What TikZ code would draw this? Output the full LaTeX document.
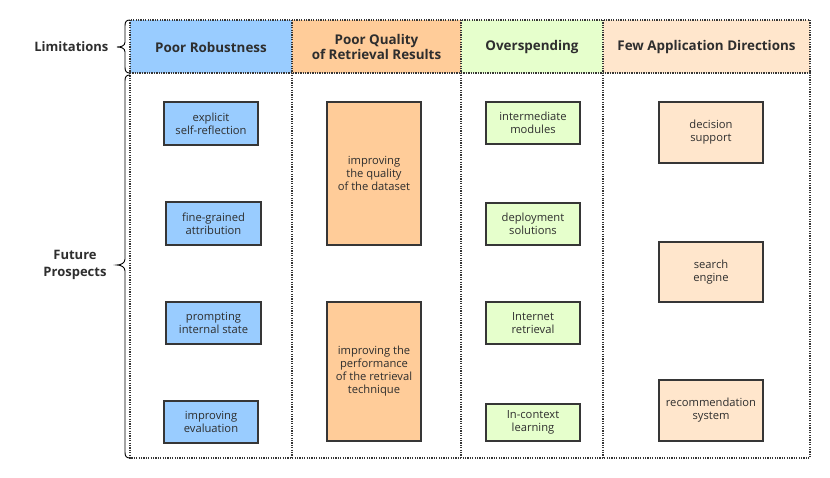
\documentclass[tikz,border=0pt]{standalone}
\usepackage{fontspec}
\setmainfont{Open Sans}
\definecolor{txt}{HTML}{2E2E2E}
\definecolor{cblue}{HTML}{99CCFF}
\definecolor{corange}{HTML}{FFCC99}
\definecolor{cgreen}{HTML}{E6FFCC}
\definecolor{cpeach}{HTML}{FFE6CC}
\definecolor{bord}{HTML}{363636}
\tikzset{
  dotline/.style={draw=bord, line width=1.2pt, dash pattern=on 1.2pt off 1.2pt},
  head/.style={font=\fontsize{13.4}{15}\selectfont\bfseries, text=txt, align=center},
  side/.style={font=\fontsize{13}{17}\selectfont\bfseries, text=txt, align=center},
  item/.style={draw=bord, line width=1.3pt, font=\fontsize{11.2}{13}\selectfont, text=txt, align=center, inner sep=0pt},
  bracepath/.style={draw=black, line width=0.9pt},
}
\begin{document}
\begin{tikzpicture}[x=1pt,y=-1pt]
\useasboundingbox (0,0) rectangle (830,478);
% header fills
\fill[cblue] (130,20) rectangle (292,73);
\fill[corange] (292,20) rectangle (461,73);
\fill[cgreen] (461,20) rectangle (603,73);
\fill[cpeach] (603,20) rectangle (810,73);
% headers
\node[head] (h1) at (211,47) {Poor Robustness};
\node[head] (h2) at (376.5,47) {Poor Quality\\of Retrieval Results};
\node[head] (h3) at (532,47) {Overspending};
\node[head] (h4) at (706.5,47) {Few Application Directions};
% dotted grid
\draw[dotline] (130,20) rectangle (810,73);
\draw[dotline] (130,73) rectangle (810,458);
\draw[dotline] (292,20) -- (292,458);
\draw[dotline] (461,20) -- (461,458);
\draw[dotline] (603,20) -- (603,458);
% braces
\draw[bracepath] (130,20) .. controls (126,20) and (125,22) .. (125,26) -- (125,42) .. controls (125,46) and (121,47) .. (117,47) .. controls (121,47) and (125,48) .. (125,52) -- (125,67) .. controls (125,71) and (126,73) .. (130,73);
\draw[bracepath] (130,75) .. controls (126,75) and (125,77) .. (125,81) -- (125,259) .. controls (125,263) and (121,265) .. (117,265) .. controls (121,265) and (125,267) .. (125,271) -- (125,452) .. controls (125,456) and (126,458) .. (130,458);
\node[side, anchor=east] (lim) at (112,47) {Limitations};
\node[side] (fut) at (75,265) {Future\\Prospects};
% blue column
\node[item, fill=cblue, minimum width=94pt, minimum height=43pt] (b1) at (211,123.5) {explicit\\self-reflection};
\node[item, fill=cblue, minimum width=95pt, minimum height=43pt] (b2) at (213.5,223.5) {fine-grained\\attribution};
\node[item, fill=cblue, minimum width=95pt, minimum height=42pt] (b3) at (213.5,323) {prompting\\internal state};
\node[item, fill=cblue, minimum width=94pt, minimum height=42pt] (b4) at (211,422) {improving\\evaluation};
% orange column
\node[item, fill=corange, minimum width=94pt, minimum height=143pt] (o1) at (374,173.5) {improving\\the quality\\of the dataset};
\node[item, fill=corange, minimum width=94pt, minimum height=139pt] (o2) at (374,371.5) {improving the\\performance\\of the retrieval\\technique};
% green column
\node[item, fill=cgreen, minimum width=94pt, minimum height=42pt] (g1) at (533,123) {intermediate\\modules};
\node[item, fill=cgreen, minimum width=94pt, minimum height=42pt] (g2) at (533,224) {deployment\\solutions};
\node[item, fill=cgreen, minimum width=94pt, minimum height=42pt] (g3) at (533,323) {Internet\\retrieval};
\node[item, fill=cgreen, minimum width=94pt, minimum height=37pt] (g4) at (533,422.5) {In-context\\learning};
% peach column
\node[item, fill=cpeach, minimum width=104pt, minimum height=61pt] (p1) at (711,132.5) {decision\\support};
\node[item, fill=cpeach, minimum width=104pt, minimum height=60pt] (p2) at (711,272) {search\\engine};
\node[item, fill=cpeach, minimum width=104pt, minimum height=61pt] (p3) at (711,410.5) {recommendation\\system};
\end{tikzpicture}
\end{document}
